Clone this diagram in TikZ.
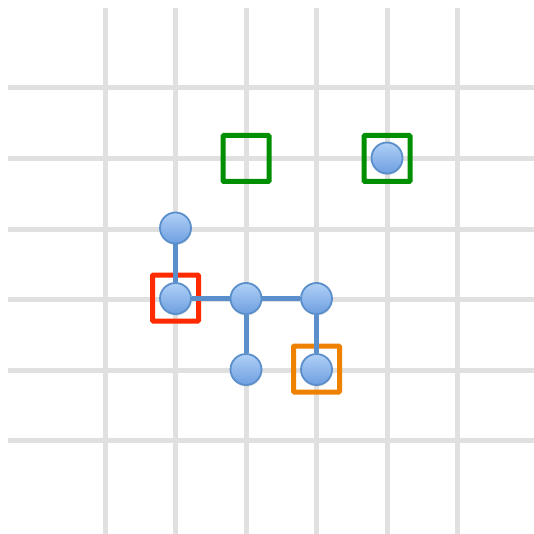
\documentclass[tikz,border=0pt]{standalone}
\usetikzlibrary{shadows}
\definecolor{gridgray}{HTML}{E0E0E0}
\definecolor{ballfill}{HTML}{8DB6EC}
\definecolor{balltop}{HTML}{B0D0F6}
\definecolor{ballbot}{HTML}{6E9FE0}
\definecolor{balledge}{HTML}{5A8FCB}
\definecolor{linkblue}{HTML}{5A8FCB}
\definecolor{markred}{HTML}{FF2A00}
\definecolor{markorange}{HTML}{EE8200}
\definecolor{markgreen}{HTML}{008F00}
\tikzset{
  gridline/.style={gridgray, line width=5pt},
  ball/.style={circle, minimum size=31pt, inner sep=0pt, draw=balledge, line width=1.8pt,
    top color=balltop, bottom color=ballbot,
    drop shadow={shadow xshift=0.5pt, shadow yshift=-1.5pt, opacity=0.25}},
  link/.style={linkblue, line width=5pt},
  marker/.style={rectangle, minimum size=46pt, inner sep=0pt, line width=5pt, rounded corners=1pt},
}
\begin{document}
\begin{tikzpicture}[x=1pt, y=-1pt]
\useasboundingbox (0,0) rectangle (534,534);
% grid
\foreach \gx in {105,175.5,246,316.5,387,457.5}
  \draw[gridline] (\gx,8) -- (\gx,534);
\foreach \gy in {88,158.5,229,299.5,370,440.5}
  \draw[gridline] (8,\gy) -- (534,\gy);
% markers behind
\node[marker, draw=markgreen] (g1) at (246,158.5) {};
\node[marker, draw=markgreen] (g2) at (387,158.5) {};
\node[marker, draw=markred] (r1) at (175.5,298) {};
\node[marker, draw=markorange] (o1) at (316.5,369) {};
% balls
\node[ball] (a) at (175.5,228) {};
\node[ball] (b) at (175.5,298.5) {};
\node[ball] (c) at (246,298.5) {};
\node[ball] (d) at (316.5,298.5) {};
\node[ball] (e) at (246,369.5) {};
\node[ball] (f) at (316.5,369.5) {};
\node[ball] (h) at (387,158) {};
% links
\begin{scope}[on background layer/.try]
\end{scope}
\draw[link] (a) -- (b);
\draw[link] (b) -- (c);
\draw[link] (c) -- (d);
\draw[link] (c) -- (e);
\draw[link] (d) -- (f);
\end{tikzpicture}
\end{document}
